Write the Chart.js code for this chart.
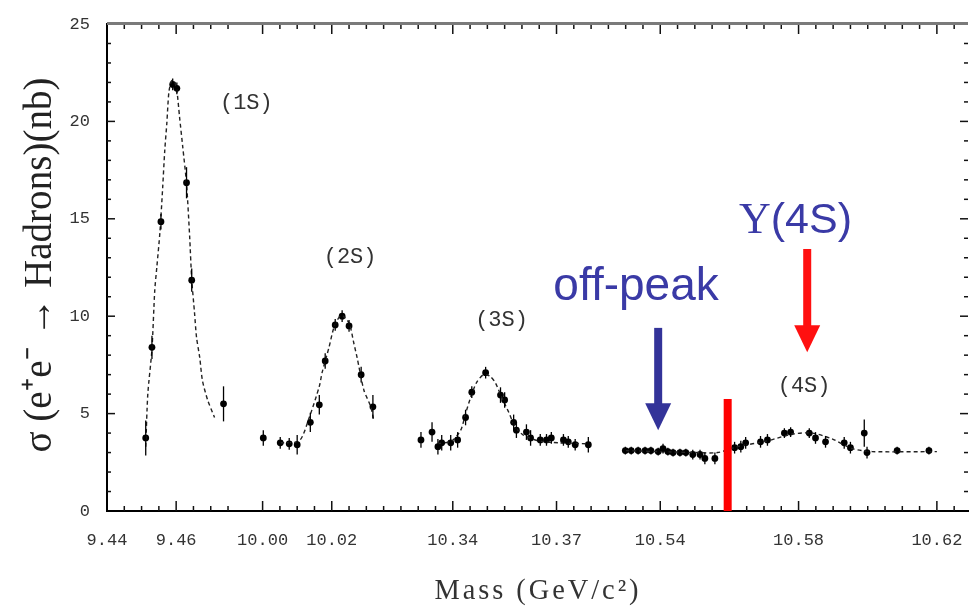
<!DOCTYPE html>
<html><head><meta charset="utf-8">
<script src="https://cdn.jsdelivr.net/npm/chart.js@4/dist/chart.umd.min.js"></script>
<style>html,body{margin:0;padding:0;background:#fff;overflow:hidden}</style>
</head><body>
<canvas id="c" width="972" height="609"></canvas>
<script>
// ---------- broken mass axis ----------
const tickMasses = [9.44, 9.46, 10.00, 10.02, 10.34, 10.37, 10.54, 10.58, 10.62];
const tickLabels = ['9.44', '9.46', '10.00', '10.02', '10.34', '10.37', '10.54', '10.58', '10.62'];
const segMassStart = [9.44, 10.00, 10.34, 10.54];
const segSlotStart = [0, 9, 20, 32];
const segUpperMass = [9.8, 10.2, 10.45, 11.0];
const massPerSlot = 0.005;
const yTickValues = [0, 5, 10, 15, 20, 25];

// ---------- Upsilon(1S) ----------
const mass1S  = [9.4512, 9.4530, 9.4556, 9.4590, 9.4602, 9.4630, 9.4645, 9.4737];
const sigma1S = [3.75, 8.4, 14.85, 21.9, 21.7, 16.85, 11.85, 5.5];
const err1S   = [0.9, 0.6, 0.4, 0.3, 0.3, 0.8, 0.6, 0.9];
const fitMass1S  = [9.4512, 9.4518, 9.4530, 9.4538, 9.4544, 9.4553, 9.4561, 9.4567, 9.4573, 9.4579, 9.4587, 9.4596, 9.4602, 9.4610, 9.4619, 9.4630, 9.4639, 9.4645, 9.4653, 9.4659, 9.4668, 9.4676, 9.4691, 9.4711];
const fitSigma1S = [3.3, 6.0, 8.3, 11.3, 12.5, 14.3, 16.6, 18.5, 19.9, 21.5, 22.1, 22.0, 21.6, 20.2, 18.7, 16.8, 14.1, 11.9, 10.2, 8.9, 7.9, 6.7, 5.7, 4.8];

// ---------- Upsilon(2S) ----------
const mass2S  = [10.0002, 10.0051, 10.0077, 10.0100, 10.0138, 10.0164, 10.0181, 10.0210, 10.0230, 10.0250, 10.0285, 10.0319];
const sigma2S = [3.75, 3.5, 3.45, 3.4, 4.55, 5.45, 7.7, 9.55, 10.0, 9.5, 7.0, 5.35];
const err2S   = [0.4, 0.3, 0.3, 0.5, 0.5, 0.5, 0.4, 0.3, 0.3, 0.3, 0.4, 0.6];
const fitMass2S  = [10.0051, 10.0106, 10.0135, 10.0164, 10.0172, 10.0192, 10.0207, 10.0227, 10.0250, 10.0264, 10.0273, 10.0293, 10.0313, 10.0322];
const fitSigma2S = [3.5, 3.6, 4.8, 6.4, 7.1, 8.4, 9.45, 10.05, 9.65, 8.6, 7.9, 6.2, 5.35, 4.6];

// ---------- Upsilon(3S) ----------
const mass3S  = [10.3308, 10.3340, 10.3357, 10.3368, 10.3394, 10.3414, 10.3437, 10.3455, 10.3495, 10.3538, 10.3550, 10.3576, 10.3584, 10.3613, 10.3625, 10.3653, 10.3671, 10.3685, 10.3720, 10.3734, 10.3754, 10.3792];
const sigma3S = [3.65, 4.05, 3.3, 3.5, 3.5, 3.65, 4.8, 6.1, 7.1, 5.95, 5.7, 4.55, 4.15, 4.05, 3.75, 3.65, 3.65, 3.75, 3.65, 3.55, 3.4, 3.4];
const err3S   = [0.4, 0.5, 0.4, 0.4, 0.4, 0.4, 0.4, 0.3, 0.3, 0.4, 0.4, 0.4, 0.4, 0.4, 0.4, 0.3, 0.3, 0.3, 0.3, 0.3, 0.3, 0.4];
const fitMass3S  = [10.3357, 10.3397, 10.3423, 10.3437, 10.3452, 10.3469, 10.3489, 10.3509, 10.3524, 10.3541, 10.3561, 10.3581, 10.3604, 10.3648, 10.3705, 10.3792];
const fitSigma3S = [3.45, 3.6, 4.15, 5.0, 5.85, 6.6, 7.0, 6.9, 6.55, 5.85, 5.1, 4.3, 3.9, 3.6, 3.5, 3.45];

// ---------- Upsilon(4S) ----------
const mass4S  = [10.5299, 10.5316, 10.5336, 10.5356, 10.5373, 10.5394, 10.5408, 10.5422, 10.5437, 10.5457, 10.5474, 10.5494, 10.5515, 10.5529, 10.5558, 10.5615, 10.5633, 10.5647, 10.5690, 10.5710, 10.5759, 10.5777, 10.5831, 10.5849, 10.5878, 10.5932, 10.5950, 10.5990, 10.5998, 10.6085, 10.6177];
const sigma4S = [3.1, 3.1, 3.1, 3.1, 3.1, 3.05, 3.2, 3.05, 3.0, 3.0, 3.0, 2.9, 2.9, 2.7, 2.7, 3.25, 3.3, 3.5, 3.55, 3.65, 4.0, 4.05, 4.0, 3.75, 3.55, 3.5, 3.25, 4.0, 3.0, 3.1, 3.1];
const err4S   = [0.2, 0.2, 0.2, 0.2, 0.2, 0.2, 0.25, 0.2, 0.2, 0.2, 0.2, 0.25, 0.25, 0.3, 0.3, 0.3, 0.3, 0.3, 0.3, 0.3, 0.25, 0.25, 0.25, 0.3, 0.3, 0.3, 0.3, 0.7, 0.3, 0.2, 0.2];
const fitMass4S  = [10.5299, 10.5500, 10.5566, 10.5623, 10.5710, 10.5782, 10.5840, 10.5897, 10.5955, 10.6013, 10.6200];
const fitSigma4S = [3.1, 3.0, 3.0, 3.3, 3.6, 3.95, 4.0, 3.7, 3.2, 3.05, 3.05];

// ---------- annotations (mass, cross-section) ----------
const offPeakMass = 10.5394, offPeakArrowTop = 9.4, offPeakArrowTip = 4.15;
const onPeakMass = 10.5825, onPeakArrowTop = 13.45, onPeakArrowTip = 8.15;
const markerMass = 10.5595, markerTop = 5.75;

function toSlot(m) {
  let i = 0;
  while (i < segUpperMass.length - 1 && m >= segUpperMass[i]) i++;
  return segSlotStart[i] + (m - segMassStart[i]) / massPerSlot;
}
function pts(ms, ss, es) { return ms.map((m, i) => ({ x: toSlot(m), y: ss[i], e: es ? es[i] : 0 })); }

const tickSlots = tickMasses.map(toSlot);

const ptStyle = { type: 'scatter', showLine: false, pointRadius: 3.4, pointBackgroundColor: '#000', pointBorderColor: '#000', pointBorderWidth: 0, pointStyle: 'circle', errorBars: true };
const fitStyle = { type: 'line', showLine: true, pointRadius: 0, borderColor: '#222', borderWidth: 1.4, borderDash: [4, 3], tension: 0.25, fill: false };

const datasets = [
  Object.assign({ label: 'fit1S', data: pts(fitMass1S, fitSigma1S) }, fitStyle),
  Object.assign({ label: 'fit2S', data: pts(fitMass2S, fitSigma2S) }, fitStyle),
  Object.assign({ label: 'fit3S', data: pts(fitMass3S, fitSigma3S) }, fitStyle),
  Object.assign({ label: 'fit4S', data: pts(fitMass4S, fitSigma4S) }, fitStyle),
  Object.assign({ label: '1S', data: pts(mass1S, sigma1S, err1S) }, ptStyle),
  Object.assign({ label: '2S', data: pts(mass2S, sigma2S, err2S) }, ptStyle),
  Object.assign({ label: '3S', data: pts(mass3S, sigma3S, err3S) }, ptStyle),
  Object.assign({ label: '4S', data: pts(mass4S, sigma4S, err4S) }, ptStyle),
];

function line(ctx, x1, y1, x2, y2) { ctx.beginPath(); ctx.moveTo(x1, y1); ctx.lineTo(x2, y2); ctx.stroke(); }
function arrow(ctx, x, yTop, yTip, color) {
  const shaftW = 8, headW = 26, headL = 27;
  ctx.fillStyle = color;
  ctx.fillRect(x - shaftW / 2, yTop, shaftW, yTip - yTop - headL + 1);
  ctx.beginPath();
  ctx.moveTo(x - headW / 2, yTip - headL);
  ctx.lineTo(x + headW / 2, yTip - headL);
  ctx.lineTo(x, yTip);
  ctx.closePath(); ctx.fill();
}

const framePlugin = {
  id: 'frame',
  afterDatasetsDraw(chart) {
    const { ctx, chartArea: a, scales: { x, y } } = chart;
    ctx.save();
    // error bars
    ctx.strokeStyle = '#000'; ctx.lineWidth = 1.3;
    chart.data.datasets.forEach(ds => {
      if (!ds.errorBars) return;
      ds.data.forEach(p => {
        const px = x.getPixelForValue(p.x);
        line(ctx, px, y.getPixelForValue(p.y - p.e), px, y.getPixelForValue(p.y + p.e));
      });
    });
    // ticks
    ctx.lineWidth = 1.5; ctx.strokeStyle = '#111';
    const majors = tickSlots.map(s => Math.round(s));
    for (let s = 1; s <= Math.floor(x.max); s++) {
      if (s === 8) continue;
      const px = x.getPixelForValue(s);
      const major = majors.includes(s);
      line(ctx, px, a.bottom, px, a.bottom - (major ? 10 : 5));
      line(ctx, px, a.top, px, a.top + (major ? 10 : 5));
    }
    for (let v = 1; v <= 25; v++) {
      const py = y.getPixelForValue(v);
      const major = v % 5 === 0;
      line(ctx, a.left, py, a.left + (major ? 8 : 4), py);
      line(ctx, a.right, py, a.right - (major ? 8 : 4), py);
    }
    // top frame line
    ctx.strokeStyle = '#7a7a7a'; ctx.lineWidth = 3;
    line(ctx, a.left, a.top - 0.5, a.right, a.top - 0.5);

    // resonance labels
    ctx.fillStyle = '#333'; ctx.textAlign = 'center'; ctx.textBaseline = 'middle';
    ctx.font = '22px "Liberation Mono"';
    [['(1S)', 9.4803, 20.94], ['(2S)', 10.0253, 13.04], ['(3S)', 10.3541, 9.8], ['(4S)', 10.5816, 6.42]].forEach(([t, m, s]) => {
      ctx.fillText(t, x.getPixelForValue(toSlot(m)), y.getPixelForValue(s));
    });

    // arrows
    const xo = x.getPixelForValue(toSlot(offPeakMass));
    arrow(ctx, xo, y.getPixelForValue(offPeakArrowTop), y.getPixelForValue(offPeakArrowTip), '#333399');
    const xn = x.getPixelForValue(toSlot(onPeakMass));
    arrow(ctx, xn, y.getPixelForValue(onPeakArrowTop), y.getPixelForValue(onPeakArrowTip), '#ff1010');
    // red marker bar
    const xm = x.getPixelForValue(toSlot(markerMass));
    ctx.fillStyle = '#ff0000';
    ctx.fillRect(xm - 4, y.getPixelForValue(markerTop), 8, y.getPixelForValue(0) - y.getPixelForValue(markerTop));

    // blue annotation texts
    ctx.fillStyle = '#3a3aa6'; ctx.textBaseline = 'alphabetic';
    ctx.font = '46px "Liberation Sans"';
    ctx.fillText('off-peak', x.getPixelForValue(toSlot(10.5330)), y.getPixelForValue(10.83));
    // Υ(4S): serif Upsilon + sans (4S)
    const cx = x.getPixelForValue(toSlot(10.5791)), by = y.getPixelForValue(14.27);
    ctx.font = '44px "Liberation Serif"'; const w1 = ctx.measureText('Υ').width;
    ctx.font = '43px "Liberation Sans"'; const w2 = ctx.measureText('(4S)').width;
    const x0 = cx - (w1 + w2) / 2;
    ctx.textAlign = 'left';
    ctx.font = '44px "Liberation Serif"'; ctx.fillText('Υ', x0, by);
    ctx.font = '43px "Liberation Sans"'; ctx.fillText('(4S)', x0 + w1, by);

    // axis titles
    ctx.fillStyle = '#222'; ctx.textAlign = 'center'; ctx.textBaseline = 'middle';
    ctx.save();
    ctx.translate(40, 265); ctx.rotate(-Math.PI / 2);
    ctx.font = '40px "Liberation Serif"';
    const yt = 'σ (e⁺e⁻ → Hadrons)(nb)';
    const yw = ctx.measureText(yt).width;
    ctx.scale(375 / yw, 1);
    ctx.fillText(yt, 0, 0);
    ctx.restore();
    ctx.save();
    ctx.fillStyle = '#333';
    ctx.font = '29px "Liberation Serif"';
    ctx.letterSpacing = '3px';
    const xt = 'Mass (GeV/c²)';
    const xw = ctx.measureText(xt).width;
    ctx.translate(538, 591);
    ctx.scale(207 / xw, 1);
    ctx.fillText(xt, 0, 0);
    ctx.restore();
    ctx.restore();
  }
};

new Chart(document.getElementById('c'), {
  type: 'scatter',
  data: { datasets },
  options: {
    responsive: false, animation: false, devicePixelRatio: 1,
    layout: { padding: { top: 24, right: 0, bottom: 0, left: 0 } },
    plugins: { legend: { display: false }, tooltip: { enabled: false } },
    scales: {
      x: {
        type: 'linear', min: 0, max: 49.8,
        afterFit: s => { s.height = 98; s.paddingLeft = 0; s.paddingRight = 0; },
        afterBuildTicks: s => { s.ticks = tickSlots.map(v => ({ value: v })); },
        ticks: {
          autoSkip: false, maxRotation: 0, padding: 19, color: '#333',
          font: { family: 'Liberation Mono', size: 17 },
          callback: (v) => { const i = tickSlots.findIndex(t => Math.abs(t - v) < 1e-6); return i >= 0 ? tickLabels[i] : ''; }
        },
        grid: { display: false, drawTicks: false },
        border: { display: true, color: '#000', width: 2 }
      },
      y: {
        min: 0, max: 25,
        afterFit: s => { s.width = 107; s.paddingTop = 0; s.paddingBottom = 0; },
        afterBuildTicks: s => { s.ticks = yTickValues.map(v => ({ value: v })); },
        ticks: { padding: 17, color: '#333', font: { family: 'Liberation Mono', size: 17 } },
        grid: { display: false, drawTicks: false },
        border: { display: true, color: '#000', width: 2 }
      }
    }
  },
  plugins: [framePlugin]
});
</script>
</body></html>
